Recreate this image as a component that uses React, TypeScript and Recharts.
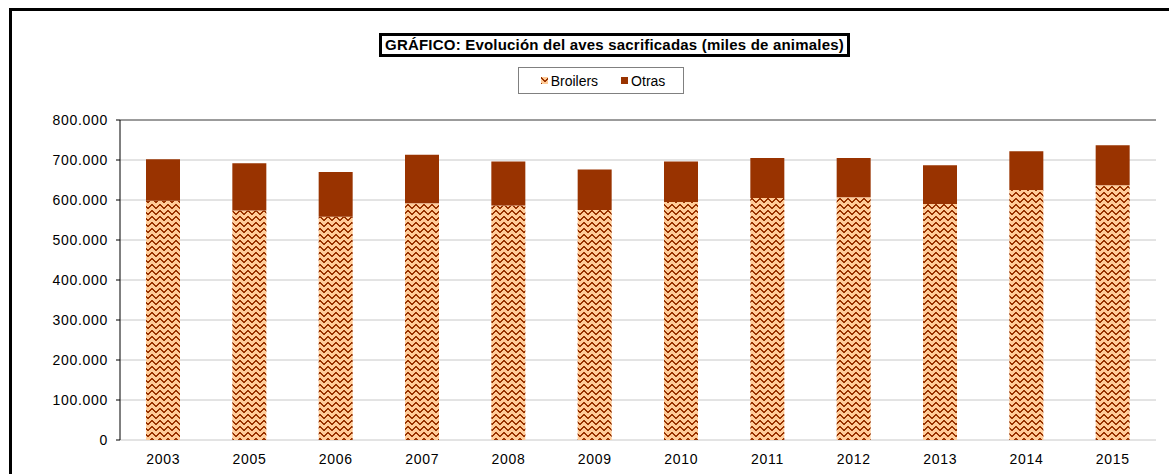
import React from 'react'
import { BarChart, Bar, XAxis, YAxis, CartesianGrid, Legend, ReferenceLine } from 'recharts'

// miles de animales
const years = ['2003', '2005', '2006', '2007', '2008', '2009', '2010', '2011', '2012', '2013', '2014', '2015']
const broilers = [598000, 574000, 558000, 592000, 586000, 575000, 595000, 605000, 607000, 590000, 625000, 637000]
const otras = [104000, 118000, 112000, 121000, 110000, 101000, 101000, 100000, 98000, 97000, 97000, 100000]
const yTicks = [0, 100000, 200000, 300000, 400000, 500000, 600000, 700000, 800000]
const edgeTicks = [0, 1, 2, 3, 4, 5, 6, 7, 8, 9, 10, 11, 12]

const data = years.map((year, i) => ({ year, broilers: broilers[i], otras: otras[i] }))

const BROWN = '#993300'
const PEACH = '#FFCC99'
const FONT = '"Liberation Sans", Arial, sans-serif'

// zig zag fill pattern (8x6 bitmap)
const zigzag = ['10000001', '11000011', '01100110', '00111100', '00011000', '00000000']

const fmt = (v: number) => (v === 0 ? '0' : `${Math.floor(v / 1000)}.${String(v % 1000).padStart(3, '0')}`)

const LegendBox = ({ payload }: any) => (
  <div
    style={{
      boxSizing: 'border-box',
      width: 166,
      height: 27,
      border: '1px solid #808080',
      background: '#fff',
      display: 'flex',
      alignItems: 'center',
      justifyContent: 'center',
      gap: 23,
      fontSize: 14,
      fontFamily: FONT,
      color: '#000',
      paddingLeft: 4,
    }}
  >
    {(payload || []).map((p: any) => (
      <span key={p.value} style={{ display: 'flex', alignItems: 'center' }}>
        <svg width={7} height={7} style={{ marginRight: 3 }}>
          <rect width={7} height={7} fill={p.dataKey === 'broilers' ? 'url(#zigzag)' : BROWN} />
        </svg>
        {p.value}
      </span>
    ))}
  </div>
)

export default function App() {
  return (
    <div style={{ position: 'absolute', left: 0, top: 0, width: 1169, height: 474, overflow: 'hidden', background: '#fff' }}>
      <div
        style={{
          position: 'absolute',
          left: 9,
          top: 8,
          width: 1200,
          height: 500,
          border: '3px solid #000',
          boxSizing: 'border-box',
        }}
      />
      <div style={{ position: 'absolute', left: 0, top: 0 }}>
        <BarChart
          width={1169}
          height={474}
          data={data}
          margin={{ top: 120, right: 13, bottom: 0, left: 0 }}
          style={{ fontFamily: FONT }}
        >
          <defs>
            <pattern id="zigzag" width={8} height={6} patternUnits="userSpaceOnUse">
              <rect width={8} height={6} fill={PEACH} />
              {zigzag.map((row, r) =>
                row.split('').map((c, k) =>
                  c === '1' ? <rect key={`${r}-${k}`} x={k} y={r} width={1} height={1} fill={BROWN} /> : null
                )
              )}
            </pattern>
          </defs>
          <CartesianGrid vertical={false} stroke="#c8c8c8" />
          <XAxis
            xAxisId={0}
            type="number"
            domain={[0, 12]}
            ticks={edgeTicks}
            interval={0}
            height={0}
            tickFormatter={() => ''}
            tickSize={4}
            stroke="#000"
            allowDataOverflow
          />
          <XAxis
            xAxisId={1}
            dataKey="year"
            height={34}
            axisLine={false}
            tickLine={false}
            tickSize={0}
            tickMargin={14}
            interval={0}
            tick={{ fill: '#000', fontSize: 14, letterSpacing: 0.7 }}
          />
          <YAxis
            width={120}
            domain={[0, 800000]}
            ticks={yTicks}
            interval={0}
            tickFormatter={fmt}
            tickSize={4}
            tickMargin={8}
            stroke="#000"
            tick={{ fill: '#000', fontSize: 14, letterSpacing: 0.7 }}
          />
          <ReferenceLine y={800000} stroke="#555" xAxisId={0} />
          <ReferenceLine x={12} stroke="#555" xAxisId={0} />
          <Legend
            verticalAlign="middle"
            align="center"
            layout="horizontal"
            content={<LegendBox />}
            wrapperStyle={{ top: 67, left: 518, width: 166, height: 27 }}
          />
          <Bar xAxisId={1} dataKey="broilers" name="Broilers" stackId="a" fill="url(#zigzag)" barSize={34} isAnimationActive={false} />
          <Bar xAxisId={1} dataKey="otras" name="Otras" stackId="a" fill={BROWN} barSize={34} isAnimationActive={false} />
        </BarChart>
      </div>
      <div
        style={{
          position: 'absolute',
          left: 379,
          top: 33,
          width: 471,
          height: 24,
          border: '3px solid #000',
          boxSizing: 'border-box',
          background: '#fff',
          fontFamily: FONT,
          fontWeight: 'bold',
          fontSize: 15,
          letterSpacing: 0.2,
          lineHeight: '18px',
          textAlign: 'center',
          whiteSpace: 'nowrap',
          color: '#000',
        }}
      >
        GRÁFICO: Evolución del aves sacrificadas (miles de animales)
      </div>
    </div>
  )
}
